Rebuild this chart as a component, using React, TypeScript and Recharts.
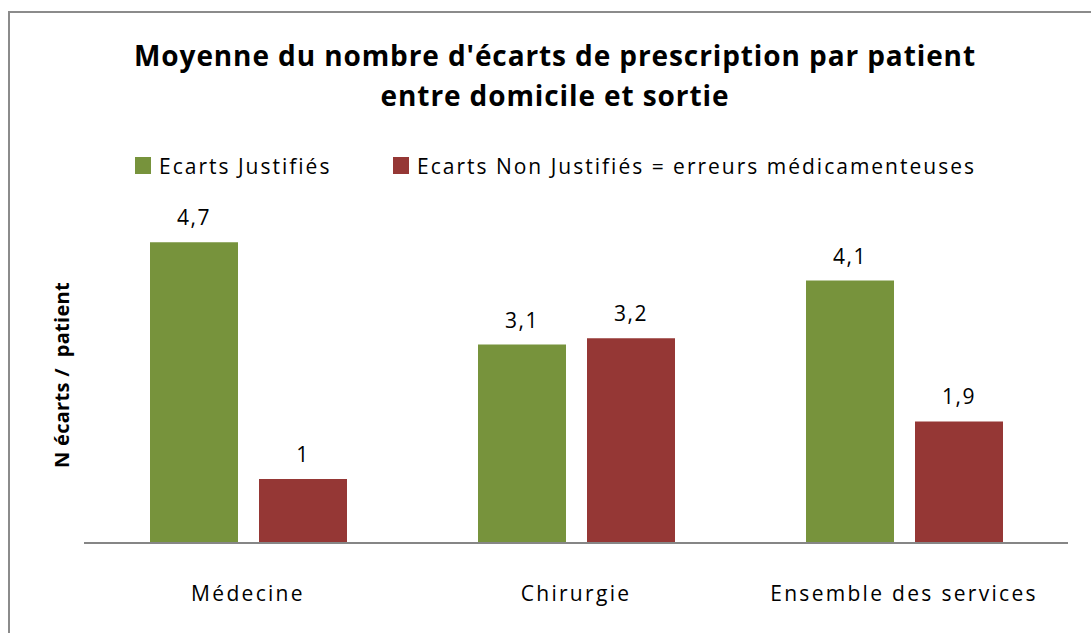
import { BarChart, Bar, XAxis, YAxis, Legend, LabelList } from 'recharts'

const W = 1081
const H = 620
const FONT = '"Open Sans", "Noto Sans", sans-serif'

const services = ['Médecine', 'Chirurgie', 'Ensemble des services']
const justifies = [4.7, 3.1, 4.1]
const nonJustifies = [1, 3.2, 1.9]

const SERIES = [
  { key: 'justifies', name: 'Ecarts Justifiés', color: '#77933c' },
  { key: 'nonJustifies', name: 'Ecarts Non Justifiés = erreurs médicamenteuses', color: '#953735' },
]

const data = services.map((s, i) => ({ name: s, justifies: justifies[i], nonJustifies: nonJustifies[i] }))

const fmt = (v: number) => String(v).replace('.', ',')

function ServiceTick({ x, y, payload }: any) {
  return (
    <text x={x} y={y + 58} textAnchor="middle" fontSize={21} letterSpacing={2.3} fill="#000" fontFamily={FONT}>
      {payload.value}
    </text>
  )
}

function LegendRow() {
  // two items on one line, square then label
  const pos = [125, 383]
  return (
    <svg width={W} height={30} style={{ display: 'block' }}>
      {SERIES.map((s, i) => (
        <g key={s.key}>
          <rect x={pos[i]} y={7} width={16} height={17} fill={s.color} />
          <text x={pos[i] + 24} y={24} fontSize={21} letterSpacing={2} fill="#000" fontFamily={FONT}>{s.name}</text>
        </g>
      ))}
    </svg>
  )
}

export default function App() {
  return (
    <div style={{
      position: 'absolute', left: 8, top: 11, width: W + 2, height: H + 2,
      borderLeft: '2px solid #8b8b8b', borderTop: '2px solid #8b8b8b', boxSizing: 'border-box',
      background: '#fff', fontFamily: FONT,
    }}>
      <BarChart width={W} height={H} data={data} margin={{ top: 210, right: 23, left: 74, bottom: 30 }}
        barSize={88} barGap={21}>
        <XAxis dataKey="name" height={60} tickLine={false} tickSize={0} tickMargin={0}
          axisLine={{ stroke: '#868686', strokeWidth: 2 }} tick={<ServiceTick />} interval={0} />
        <YAxis hide domain={[0, 5]} />
        <Legend content={<LegendRow />} verticalAlign="middle" align="center"
          wrapperStyle={{ top: 137, left: 0, width: W }} />
        {SERIES.map(s => (
          <Bar key={s.key} dataKey={s.key} name={s.name} fill={s.color} isAnimationActive={false}>
            <LabelList dataKey={s.key} position="top" offset={17} formatter={fmt}
              style={{ fontSize: 21, fill: '#000', fontFamily: FONT, letterSpacing: 1.5 }} />
          </Bar>
        ))}
      </BarChart>
      <svg width={W} height={H} style={{ position: 'absolute', left: 0, top: 0, pointerEvents: 'none' }}>
        <text x={545} y={53} textAnchor="middle" fontSize={28} letterSpacing={0.9} fontWeight="bold" fill="#000" fontFamily={FONT}>
          Moyenne du nombre d'écarts de prescription par patient
        </text>
        <text x={545} y={93} textAnchor="middle" fontSize={28} letterSpacing={0.9} fontWeight="bold" fill="#000" fontFamily={FONT}>
          entre domicile et sortie
        </text>
        <text x={59} y={362} transform="rotate(-90, 59, 362)" textAnchor="middle" fontSize={20}
          letterSpacing={0.3} fontWeight="bold" fill="#000" fontFamily={FONT} style={{ whiteSpace: 'pre' }}>
          {'N écarts /  patient'}
        </text>
      </svg>
    </div>
  )
}
